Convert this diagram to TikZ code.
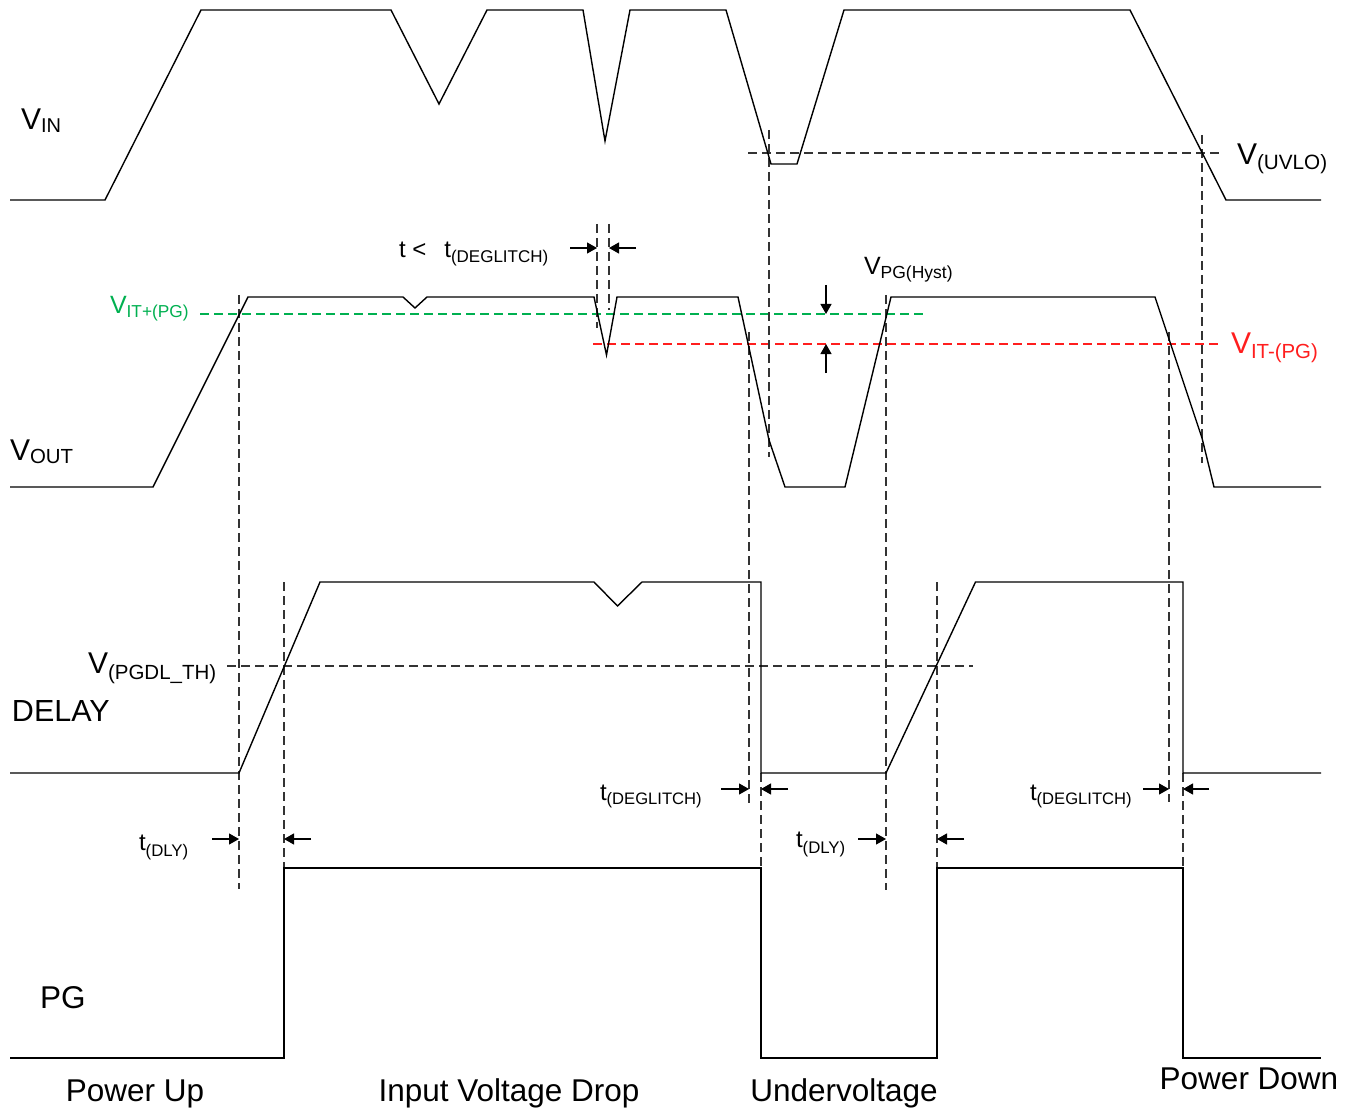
\documentclass[tikz,border=0pt]{standalone}
\usepackage{fontspec}
\setmainfont{Liberation Sans}
\usetikzlibrary{arrows.meta}
\definecolor{pggreen}{RGB}{0,176,80}
\definecolor{pgred}{RGB}{255,30,30}
\newcommand{\sigl}[5]{{\fontsize{#1}{#1}\selectfont #3}\raisebox{-#5pt}{\fontsize{#2}{#2}\selectfont #4}}
\begin{document}
\begin{tikzpicture}[x=1pt,y=-1pt,
  wave/.style={line width=1.4pt, line join=miter},
  guide/.style={line width=1.1pt, dash pattern=on 9pt off 5pt, black!80},
  dimarrow/.style={line width=1.2pt, -{Triangle[length=10pt,width=11pt]}},
  lbl/.style={anchor=base west, inner sep=0pt, outer sep=0pt},
  captext/.style={anchor=base, inner sep=0pt, font=\fontsize{31.5}{32}\selectfont}]
\useasboundingbox (0,0) rectangle (1353,1110);

% ---------- guides ----------
\draw[guide] (748,153) -- (1220,153);
\draw[guide, pggreen] (200,314) -- (925,314);
\draw[guide, pgred] (593,344) -- (1220,344);
\draw[guide] (227,666) -- (973,666);

\draw[guide] (239,295) -- (239,889);
\draw[guide] (284,582) -- (284,868);
\draw[guide] (597,224) -- (597,328);
\draw[guide] (609,224) -- (609,310);
\draw[guide] (749,332) -- (749,803);
\draw[guide] (761,773) -- (761,868);
\draw[guide] (769,130) -- (769,457);
\draw[guide] (886,295) -- (886,890);
\draw[guide] (937,582) -- (937,868);
\draw[guide] (1169,332) -- (1169,802);
\draw[guide] (1183,773) -- (1183,868);
\draw[guide] (1202,135) -- (1202,463);

% ---------- waveforms ----------
\draw[wave] (10,200) -- (105,200) -- (201,10) -- (391,10) -- (439,104) -- (487,10)
  -- (583,10) -- (605,141) -- (630,10) -- (726,10) -- (771,164) -- (797,164)
  -- (844,10) -- (1130,10) -- (1226,200) -- (1321,200);

\draw[wave] (10,487) -- (153,487) -- (248,297) -- (403,297) -- (415,308) -- (427,297)
  -- (594,297) -- (606.5,355) -- (617,297) -- (738,297) -- (769,440) -- (785,487)
  -- (845,487) -- (891,297) -- (1155,297) -- (1202,438) -- (1214,487) -- (1321,487);

\draw[wave] (10,773) -- (239,773) -- (320,582) -- (594,582) -- (617.5,606) -- (642,582)
  -- (761,582) -- (761,773) -- (886,773) -- (975.5,582) -- (1183,582)
  -- (1183,773) -- (1321,773);

\draw[wave] (10,1058) -- (284,1058) -- (284,868) -- (761,868) -- (761,1058)
  -- (937,1058) -- (937,868) -- (1183,868) -- (1183,1058) -- (1321,1058);

% ---------- dimension arrows ----------
\draw[dimarrow] (570,248) -- (597,248);
\draw[dimarrow] (636,248) -- (609,248);
\draw[dimarrow] (826,285) -- (826,314);
\draw[dimarrow] (826,373) -- (826,344);
\draw[dimarrow] (721,789) -- (749,789);
\draw[dimarrow] (788,789) -- (761,789);
\draw[dimarrow] (1143,789) -- (1169,789);
\draw[dimarrow] (1209,789) -- (1183,789);
\draw[dimarrow] (212,839) -- (239,839);
\draw[dimarrow] (311,839) -- (284,839);
\draw[dimarrow] (858,839) -- (886,839);
\draw[dimarrow] (964,839) -- (937,839);

% ---------- labels ----------
\node[lbl] (vin) at (21,130) {\sigl{30}{20}{V}{IN}{3}};
\node[lbl] (vout) at (10,460) {\sigl{30}{20.4}{V}{OUT}{3}};
\node[lbl] (uvlo) at (1237,165) {\sigl{30}{20.7}{V}{(UVLO)}{5}};
\node[lbl] (tlt) at (399,258) {\sigl{24}{17}{t <\hspace{18pt}t}{(DEGLITCH)}{5}};
\node[lbl, text=pggreen] (vitp) at (110,313) {\sigl{25}{17.3}{V}{IT+(PG)}{5}};
\node[lbl] (hyst) at (864,275) {\sigl{25}{17.5}{V}{PG(Hyst)}{4}};
\node[lbl, text=pgred] (vitm) at (1231,353) {\sigl{30}{20.4}{V}{IT-(PG)}{5}};
\node[lbl] (pgdl) at (88,673) {\sigl{30}{20.5}{V}{(PGDL\_TH)}{6}};
\node[lbl, font=\fontsize{30.5}{31}\selectfont] (delay) at (12,721) {DELAY};
\node[lbl] (tdg1) at (600,800) {\sigl{24}{16.6}{t}{(DEGLITCH)}{4}};
\node[lbl] (tdg2) at (1030,800) {\sigl{24}{16.6}{t}{(DEGLITCH)}{4}};
\node[lbl] (tdly1) at (139,850) {\sigl{24}{16.8}{t}{(DLY)}{6}};
\node[lbl] (tdly2) at (796,847) {\sigl{24}{16.8}{t}{(DLY)}{6}};
\node[lbl, font=\fontsize{31.5}{32}\selectfont] (pg) at (40,1008) {PG};

\node[captext] (pu) at (135,1101) {Power Up};
\node[captext] (ivd) at (509,1101) {Input Voltage Drop};
\node[captext] (uv) at (844,1101) {Undervoltage};
\node[captext] (pd) at (1249,1089) {Power Down};
\end{tikzpicture}
\end{document}
